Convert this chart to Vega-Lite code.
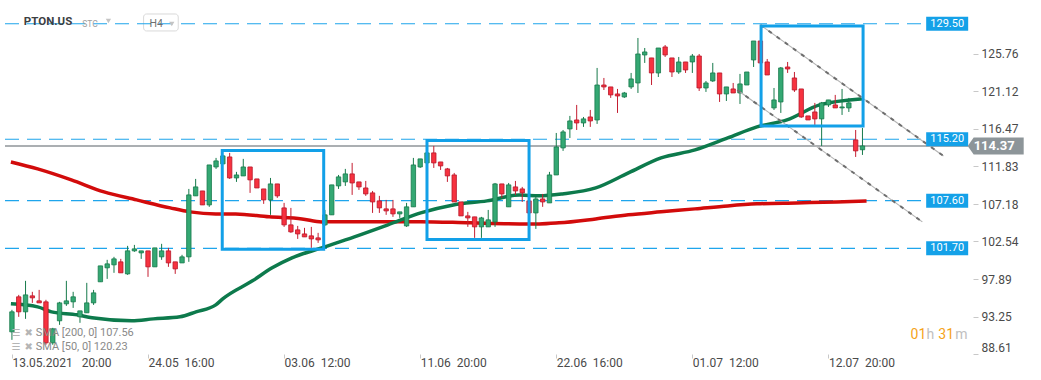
{
"$schema": "https://vega.github.io/schema/vega-lite/v6.json",
"width": 973, "height": 354, "padding": 0, "background": "white",
"config": {"view": {"stroke": null}, "font": "Roboto", "axis": {"grid": false, "domain": false, "title": null}},
"resolve": {"axis": {"x": "independent", "y": "independent"}},
"datasets": {
"candles": [
{"i":0,"o":91.35,"h":94.08,"l":90.36,"c":93.83},{"i":1,"o":95.69,"h":95.93,"l":93.21,"c":93.83},{"i":2,"o":93.83,"h":97.67,"l":92.96,"c":95.93},{"i":3,"o":95.81,"h":96.31,"l":94.94,"c":95.56},{"i":4,"o":95.19,"h":96.55,"l":94.94,"c":94.94},{"i":5,"o":95.07,"h":95.32,"l":89.75,"c":89.99},{"i":6,"o":89.99,"h":91.85,"l":89.75,"c":91.73},{"i":7,"o":92.72,"h":95.07,"l":92.22,"c":94.94},{"i":8,"o":94.82,"h":97.67,"l":94.57,"c":95.19},{"i":9,"o":95.07,"h":96.31,"l":94.32,"c":95.69},
{"i":10,"o":93.21,"h":93.95,"l":92.47,"c":93.95},{"i":11,"o":93.71,"h":97.42,"l":93.71,"c":94.94},{"i":12,"o":94.94,"h":96.55,"l":94.69,"c":96.18},{"i":13,"o":97.55,"h":99.52,"l":97.55,"c":99.52},{"i":14,"o":99.28,"h":100.27,"l":97.91,"c":99.77},{"i":15,"o":99.65,"h":100.64,"l":98.66,"c":100.39},{"i":16,"o":100.02,"h":100.39,"l":98.66,"c":98.66},{"i":17,"o":98.53,"h":102.0,"l":98.41,"c":101.38},{"i":18,"o":101.38,"h":102.12,"l":101.26,"c":101.63},{"i":19,"o":101.13,"h":101.38,"l":100.39,"c":101.38},
{"i":20,"o":101.38,"h":101.38,"l":98.16,"c":99.4},{"i":21,"o":99.4,"h":101.75,"l":99.4,"c":101.75},{"i":22,"o":100.64,"h":102.25,"l":100.27,"c":101.38},{"i":23,"o":101.38,"h":101.75,"l":99.4,"c":99.89},{"i":24,"o":100.02,"h":100.02,"l":98.53,"c":99.15},{"i":25,"o":99.89,"h":100.89,"l":99.89,"c":100.64},{"i":26,"o":100.64,"h":109.05,"l":100.02,"c":108.31},{"i":27,"o":108.19,"h":110.29,"l":108.19,"c":109.3},{"i":28,"o":108.8,"h":108.8,"l":107.07,"c":107.07},{"i":29,"o":107.07,"h":112.02,"l":106.83,"c":112.02},
{"i":30,"o":111.77,"h":112.89,"l":111.53,"c":112.52},{"i":31,"o":112.15,"h":113.26,"l":112.15,"c":113.14},{"i":32,"o":113.01,"h":113.51,"l":110.29,"c":110.41},{"i":33,"o":110.41,"h":111.16,"l":109.92,"c":110.78},{"i":34,"o":110.66,"h":112.77,"l":110.66,"c":111.77},{"i":35,"o":111.77,"h":111.77,"l":108.56,"c":110.17},{"i":36,"o":110.29,"h":110.29,"l":109.17,"c":109.17},{"i":37,"o":109.05,"h":109.05,"l":107.2,"c":107.69},{"i":38,"o":107.69,"h":110.41,"l":105.84,"c":109.67},{"i":39,"o":109.67,"h":109.67,"l":107.94,"c":108.19},
{"i":40,"o":106.7,"h":107.32,"l":104.35,"c":104.6},{"i":41,"o":104.6,"h":106.7,"l":103.61,"c":103.73},{"i":42,"o":103.98,"h":104.47,"l":102.86,"c":103.48},{"i":43,"o":103.48,"h":104.23,"l":103.11,"c":103.11},{"i":44,"o":103.24,"h":104.35,"l":101.75,"c":102.86},{"i":45,"o":102.99,"h":103.61,"l":102.37,"c":102.74},{"i":46,"o":104.6,"h":106.45,"l":104.47,"c":105.84},{"i":47,"o":105.84,"h":109.55,"l":105.84,"c":109.55},{"i":48,"o":109.42,"h":110.78,"l":109.05,"c":110.54},{"i":49,"o":109.92,"h":111.53,"l":109.42,"c":110.91},
{"i":50,"o":110.91,"h":112.27,"l":108.31,"c":109.79},{"i":51,"o":109.92,"h":109.92,"l":108.93,"c":109.3},{"i":52,"o":109.17,"h":110.04,"l":108.19,"c":108.43},{"i":53,"o":108.56,"h":108.8,"l":106.08,"c":107.44},{"i":54,"o":107.57,"h":108.19,"l":106.08,"c":106.7},{"i":55,"o":106.58,"h":107.69,"l":105.84,"c":106.33},{"i":56,"o":106.58,"h":107.69,"l":105.59,"c":105.96},{"i":57,"o":105.96,"h":106.21,"l":105.46,"c":106.21},{"i":58,"o":104.47,"h":107.32,"l":104.35,"c":106.83},{"i":59,"o":106.83,"h":112.89,"l":106.83,"c":112.02},
{"i":60,"o":111.77,"h":112.77,"l":111.65,"c":112.77},{"i":61,"o":112.27,"h":113.63,"l":112.15,"c":113.51},{"i":62,"o":113.51,"h":114.37,"l":111.65,"c":112.27},{"i":63,"o":112.39,"h":112.39,"l":111.4,"c":111.9},{"i":64,"o":111.53,"h":111.65,"l":109.92,"c":110.66},{"i":65,"o":110.78,"h":111.03,"l":107.44,"c":107.44},{"i":66,"o":107.44,"h":107.44,"l":105.71,"c":105.71},{"i":67,"o":105.71,"h":106.21,"l":104.35,"c":105.46},{"i":68,"o":105.59,"h":105.59,"l":102.99,"c":104.35},{"i":69,"o":104.35,"h":105.59,"l":102.99,"c":105.46},
{"i":70,"o":104.35,"h":106.45,"l":104.35,"c":105.22},{"i":71,"o":104.97,"h":109.79,"l":104.35,"c":109.67},{"i":72,"o":109.67,"h":109.67,"l":107.94,"c":108.43},{"i":73,"o":106.83,"h":109.79,"l":106.83,"c":109.55},{"i":74,"o":109.3,"h":110.04,"l":108.31,"c":108.8},{"i":75,"o":109.05,"h":109.3,"l":107.44,"c":108.56},{"i":76,"o":107.57,"h":107.69,"l":105.96,"c":106.08},{"i":77,"o":106.08,"h":108.06,"l":104.1,"c":107.81},{"i":78,"o":107.81,"h":108.43,"l":106.83,"c":107.44},{"i":79,"o":107.32,"h":111.16,"l":107.32,"c":110.78},
{"i":80,"o":110.78,"h":115.98,"l":110.78,"c":114.25},{"i":81,"o":114.13,"h":116.35,"l":113.76,"c":116.11},{"i":82,"o":116.48,"h":118.09,"l":115.36,"c":117.47},{"i":83,"o":117.59,"h":119.45,"l":116.35,"c":117.22},{"i":84,"o":117.22,"h":117.96,"l":116.73,"c":117.72},{"i":85,"o":117.96,"h":118.83,"l":116.73,"c":117.47},{"i":86,"o":117.59,"h":124.03,"l":117.1,"c":121.92},{"i":87,"o":121.92,"h":122.79,"l":121.3,"c":121.68},{"i":88,"o":121.68,"h":121.68,"l":120.32,"c":120.69},{"i":89,"o":120.81,"h":121.43,"l":118.46,"c":120.56},
{"i":90,"o":120.44,"h":121.06,"l":120.32,"c":120.93},{"i":91,"o":121.68,"h":123.41,"l":121.43,"c":122.67},{"i":92,"o":122.17,"h":127.74,"l":120.93,"c":125.76},{"i":93,"o":125.64,"h":126.5,"l":124.65,"c":126.01},{"i":94,"o":125.27,"h":125.27,"l":121.92,"c":123.41},{"i":95,"o":123.41,"h":126.5,"l":122.91,"c":126.5},{"i":96,"o":126.63,"h":126.87,"l":125.39,"c":125.64},{"i":97,"o":125.27,"h":125.27,"l":122.91,"c":123.53},{"i":98,"o":123.53,"h":125.39,"l":123.29,"c":124.77},{"i":99,"o":124.77,"h":124.77,"l":123.41,"c":123.78},
{"i":100,"o":124.77,"h":125.76,"l":123.41,"c":125.51},{"i":101,"o":125.51,"h":125.76,"l":121.18,"c":121.55},{"i":102,"o":121.55,"h":122.42,"l":121.06,"c":122.17},{"i":103,"o":122.42,"h":124.65,"l":122.3,"c":123.41},{"i":104,"o":123.41,"h":123.41,"l":119.82,"c":120.81},{"i":105,"o":120.81,"h":121.68,"l":119.94,"c":121.68},{"i":106,"o":121.43,"h":122.17,"l":120.93,"c":120.93},{"i":107,"o":120.93,"h":123.29,"l":119.57,"c":122.05},{"i":108,"o":121.92,"h":123.53,"l":121.92,"c":123.53},{"i":109,"o":125.02,"h":127.37,"l":124.15,"c":127.37},
{"i":110,"o":127.37,"h":127.49,"l":124.52,"c":124.65},{"i":111,"o":124.77,"h":125.14,"l":123.16,"c":123.16},{"i":112,"o":119.08,"h":121.55,"l":118.83,"c":120.07},{"i":113,"o":119.82,"h":124.15,"l":118.46,"c":124.03},{"i":114,"o":124.15,"h":124.77,"l":123.41,"c":123.9},{"i":115,"o":122.79,"h":123.53,"l":121.06,"c":121.3},{"i":116,"o":121.43,"h":121.43,"l":117.84,"c":117.96},{"i":117,"o":118.09,"h":118.09,"l":117.59,"c":117.59},{"i":118,"o":118.58,"h":119.7,"l":116.97,"c":117.72},{"i":119,"o":117.72,"h":119.82,"l":114.37,"c":119.7},
{"i":120,"o":119.45,"h":120.07,"l":119.2,"c":120.07},{"i":121,"o":119.45,"h":120.69,"l":119.08,"c":119.08},{"i":122,"o":119.08,"h":121.43,"l":118.21,"c":119.2},{"i":123,"o":119.08,"h":120.32,"l":118.58,"c":119.7},{"i":124,"o":115.12,"h":116.35,"l":113.01,"c":113.76},{"i":125,"o":113.9,"h":116.6,"l":113.26,"c":114.37}
],
"sma200": [
{"i":-0.15,"v":112.39},{"i":3.78,"v":111.53},{"i":8.73,"v":110.17},{"i":13.53,"v":108.68},{"i":18.33,"v":107.69},{"i":23.27,"v":106.7},{"i":26.18,"v":106.21},{"i":29.96,"v":105.96},{"i":32.87,"v":105.96},{"i":37.82,"v":105.59},{"i":42.62,"v":105.34},{"i":45.53,"v":104.97},{"i":52.8,"v":105.0},{"i":60.07,"v":105.0},{"i":67.35,"v":104.85},{"i":74.6,"v":104.72},{"i":77.5,"v":104.72},{"i":80.4,"v":104.85},{"i":85.8,"v":105.34},{"i":90.6,"v":105.84},{"i":95.4,"v":106.21},{"i":100.4,"v":106.58},{"i":105.2,"v":106.95},{"i":109.5,"v":107.2},{"i":115.3,"v":107.32},{"i":121.2,"v":107.44},{"i":125.6,"v":107.56}
],
"sma50": [
{"i":-0.15,"v":94.82},{"i":3.78,"v":94.45},{"i":5.82,"v":93.83},{"i":9.6,"v":93.46},{"i":11.78,"v":93.09},{"i":17.6,"v":92.72},{"i":20.8,"v":92.96},{"i":24.7,"v":93.21},{"i":27.05,"v":93.83},{"i":29.96,"v":94.69},{"i":30.98,"v":95.44},{"i":35.35,"v":97.67},{"i":38.25,"v":99.28},{"i":41.16,"v":100.51},{"i":45.53,"v":101.75},{"i":50.33,"v":103.11},{"i":55.27,"v":104.6},{"i":60.07,"v":106.08},{"i":64.87,"v":107.07},{"i":69.82,"v":107.57},{"i":74.6,"v":108.31},{"i":77.5,"v":108.19},{"i":80.9,"v":108.43},{"i":85.8,"v":109.17},{"i":90.6,"v":111.03},{"i":95.4,"v":112.89},{"i":100.4,"v":113.88},{"i":105.2,"v":115.36},{"i":109.5,"v":116.73},{"i":113.9,"v":117.59},{"i":118.7,"v":119.45},{"i":125.1,"v":120.23}
],
"levels": [{"level":129.5},{"level":115.2},{"level":107.6},{"level":101.7}],
"boxes": [
{"x1":30.91,"x2":45.82,"top":113.82,"bottom":101.57},
{"x1":61.0,"x2":76.0,"top":115.05,"bottom":102.8},
{"x1":110.1,"x2":125.09,"top":129.23,"bottom":116.85}
],
"trend": [
{"line":"upper","i":110.0,"p":129.35},{"line":"upper","i":136.9,"p":113.14},
{"line":"lower","i":106.6,"p":121.3},{"line":"lower","i":133.8,"p":104.97}
]
},
"layer": [
{"data":{"values":[{}]},"mark":{"type":"rect","fill":"white","stroke":"#d9d9d9","strokeWidth":1,"cornerRadius":3},
 "encoding":{"x":{"datum":19.35,"type":"quantitative","scale":{"domain":[-1.018,140.51],"nice":false,"zero":false},"axis":null},"x2":{"datum":24.44},
 "y":{"datum":130.71,"type":"quantitative","scale":{"domain":[88.61,132.443],"nice":false,"zero":false},"axis":null},"y2":{"datum":128.61}}},
{"data":{"name":"levels"},"mark":{"type":"rule","color":"#1ea5ec","strokeWidth":1.2,"strokeDash":[14,8]},
 "encoding":{"x":{"datum":-1.018,"type":"quantitative","scale":{"domain":[-1.018,140.51],"nice":false,"zero":false},"axis":null},"x2":{"datum":134.3},
 "y":{"field":"level","type":"quantitative","scale":{"domain":[88.61,132.443],"nice":false,"zero":false},"axis":null}}},
{"data":{"values":[{"price":114.37}]},"mark":{"type":"rule","color":"#8f9498","strokeWidth":1.5},
 "encoding":{"x":{"datum":-1.018,"type":"quantitative","scale":{"domain":[-1.018,140.51],"nice":false,"zero":false},"axis":null},"x2":{"datum":140.51},
 "y":{"field":"price","type":"quantitative","scale":{"domain":[88.61,132.443],"nice":false,"zero":false},"axis":null}}},
{"data":{"name":"sma200"},"mark":{"type":"line","color":"#d20b0b","strokeWidth":3.5,"interpolate":"monotone"},
 "encoding":{"x":{"field":"i","type":"quantitative","scale":{"domain":[-1.018,140.51],"nice":false,"zero":false},"axis":null},
 "y":{"field":"v","type":"quantitative","scale":{"domain":[88.61,132.443],"nice":false,"zero":false},"axis":null}}},
{"data":{"name":"sma50"},"mark":{"type":"line","color":"#0d7a4c","strokeWidth":3.5,"interpolate":"monotone"},
 "encoding":{"x":{"field":"i","type":"quantitative","scale":{"domain":[-1.018,140.51],"nice":false,"zero":false},"axis":null},
 "y":{"field":"v","type":"quantitative","scale":{"domain":[88.61,132.443],"nice":false,"zero":false},"axis":null}}},
{"data":{"name":"candles"},"mark":{"type":"rule","strokeWidth":1},
 "encoding":{"x":{"field":"i","type":"quantitative","scale":{"domain":[-1.018,140.51],"nice":false,"zero":false},
   "axis":{"orient":"bottom","values":[0,20,40,60,80,100,120],"labelAlign":"left","labelFlush":false,"labelFontSize":12,"labelColor":"#4a4a4a","tickColor":"#c8c8c8","tickSize":4,"labelPadding":-1,
   "labelExpr":"datum.value == 0 ? '13.05.2021\u00a0\u00a0\u00a020:00' : datum.value == 20 ? '24.05\u00a0\u00a016:00' : datum.value == 40 ? '03.06\u00a0\u00a012:00' : datum.value == 60 ? '11.06\u00a0\u00a020:00' : datum.value == 80 ? '22.06\u00a0\u00a016:00' : datum.value == 100 ? '01.07\u00a0\u00a012:00' : '12.07\u00a0\u00a020:00'"}},
 "y":{"field":"l","type":"quantitative","scale":{"domain":[88.61,132.443],"nice":false,"zero":false},
   "axis":{"orient":"right","values":[88.61,93.25,97.89,102.54,107.18,111.83,116.47,121.12,125.76],"format":".2f","labelFlush":true,"labelFontSize":12,"labelColor":"#4a4a4a","tickColor":"#c8c8c8","tickSize":5,"labelPadding":3}},
 "y2":{"field":"h"},
 "color":{"condition":{"test":"datum.c >= datum.o","value":"#177a4b"},"value":"#c41e31"}}},
{"data":{"name":"candles"},"mark":{"type":"bar","size":4.4,"strokeWidth":0.8},
 "encoding":{"x":{"field":"i","type":"quantitative","scale":{"domain":[-1.018,140.51],"nice":false,"zero":false},"axis":null},
 "y":{"field":"o","type":"quantitative","scale":{"domain":[88.61,132.443],"nice":false,"zero":false},"axis":null},
 "y2":{"field":"c"},
 "color":{"condition":{"test":"datum.c >= datum.o","value":"#34a873"},"value":"#f7323f"},
 "stroke":{"condition":{"test":"datum.c >= datum.o","value":"#177a4b"},"value":"#b8162a"}}},
{"data":{"name":"trend"},"mark":{"type":"line","color":"#b4b4b4","strokeWidth":1.2},
 "encoding":{"x":{"field":"i","type":"quantitative","scale":{"domain":[-1.018,140.51],"nice":false,"zero":false},"axis":null},
 "y":{"field":"p","type":"quantitative","scale":{"domain":[88.61,132.443],"nice":false,"zero":false},"axis":null},"detail":{"field":"line"}}},
{"data":{"name":"trend"},"mark":{"type":"line","color":"#6e6e6e","strokeWidth":2,"strokeDash":[4,6]},
 "encoding":{"x":{"field":"i","type":"quantitative","scale":{"domain":[-1.018,140.51],"nice":false,"zero":false},"axis":null},
 "y":{"field":"p","type":"quantitative","scale":{"domain":[88.61,132.443],"nice":false,"zero":false},"axis":null},"detail":{"field":"line"}}},
{"data":{"name":"boxes"},"mark":{"type":"rect","fillOpacity":0,"stroke":"#12a0e8","strokeWidth":3},
 "encoding":{"x":{"field":"x1","type":"quantitative","scale":{"domain":[-1.018,140.51],"nice":false,"zero":false},"axis":null},"x2":{"field":"x2"},
 "y":{"field":"top","type":"quantitative","scale":{"domain":[88.61,132.443],"nice":false,"zero":false},"axis":null},"y2":{"field":"bottom"}}},
{"data":{"name":"levels"},"mark":{"type":"tick","orient":"horizontal","size":42,"thickness":14,"color":"#14a1e8","opacity":1},
 "encoding":{"x":{"datum":137.45,"type":"quantitative","scale":{"domain":[-1.018,140.51],"nice":false,"zero":false},"axis":null},
 "y":{"field":"level","type":"quantitative","scale":{"domain":[88.61,132.443],"nice":false,"zero":false},"axis":null}}},
{"data":{"name":"levels"},"mark":{"type":"text","color":"white","fontSize":11,"align":"center","baseline":"middle"},
 "encoding":{"x":{"datum":137.45,"type":"quantitative","scale":{"domain":[-1.018,140.51],"nice":false,"zero":false},"axis":null},
 "y":{"field":"level","type":"quantitative","scale":{"domain":[88.61,132.443],"nice":false,"zero":false},"axis":null},
 "text":{"field":"level","type":"quantitative","format":".2f"}}},
{"data":{"values":[{"price":114.37}]},"mark":{"type":"point","shape":"M -1 0 L -0.786 -0.304 L 1 -0.304 L 1 0.304 L -0.786 0.304 Z","size":3136,"filled":true,"color":"#8d9599","opacity":1},
 "encoding":{"x":{"datum":144.58,"type":"quantitative","scale":{"domain":[-1.018,140.51],"nice":false,"zero":false},"axis":null},
 "y":{"field":"price","type":"quantitative","scale":{"domain":[88.61,132.443],"nice":false,"zero":false},"axis":null}}},
{"data":{"values":[{"price":114.37}]},"mark":{"type":"text","color":"white","fontSize":13,"fontWeight":"bold","align":"center","baseline":"middle"},
 "encoding":{"x":{"datum":144.36,"type":"quantitative","scale":{"domain":[-1.018,140.51],"nice":false,"zero":false},"axis":null},
 "y":{"field":"price","type":"quantitative","scale":{"domain":[88.61,132.443],"nice":false,"zero":false},"axis":null},
 "text":{"field":"price","type":"quantitative","format":".2f"}}},
{"data":{"values":[{"t":"PTON.US"}]},"mark":{"type":"text","color":"#3c4043","fontSize":11.5,"fontWeight":"bold","align":"left","baseline":"middle"},
 "encoding":{"x":{"datum":1.75,"type":"quantitative","scale":{"domain":[-1.018,140.51],"nice":false,"zero":false},"axis":null},
 "y":{"datum":129.66,"type":"quantitative","scale":{"domain":[88.61,132.443],"nice":false,"zero":false},"axis":null},"text":{"field":"t"}}},
{"data":{"values":[{"t":"STC"}]},"mark":{"type":"text","color":"#a0a0a0","fontSize":8.5,"align":"left","baseline":"middle"},
 "encoding":{"x":{"datum":10.33,"type":"quantitative","scale":{"domain":[-1.018,140.51],"nice":false,"zero":false},"axis":null},
 "y":{"datum":129.5,"type":"quantitative","scale":{"domain":[88.61,132.443],"nice":false,"zero":false},"axis":null},"text":{"field":"t"}}},
{"data":{"values":[{"t":"H4"}]},"mark":{"type":"text","color":"#707070","fontSize":10.5,"align":"left","baseline":"middle"},
 "encoding":{"x":{"datum":20.22,"type":"quantitative","scale":{"domain":[-1.018,140.51],"nice":false,"zero":false},"axis":null},
 "y":{"datum":129.5,"type":"quantitative","scale":{"domain":[88.61,132.443],"nice":false,"zero":false},"axis":null},"text":{"field":"t"}}},
{"data":{"values":[{}]},"mark":{"type":"point","shape":"triangle-down","size":28,"filled":true,"color":"#c4c4c4","opacity":1},
 "encoding":{"x":{"datum":14.18,"type":"quantitative","scale":{"domain":[-1.018,140.51],"nice":false,"zero":false},"axis":null},
 "y":{"datum":129.84,"type":"quantitative","scale":{"domain":[88.61,132.443],"nice":false,"zero":false},"axis":null}}},
{"data":{"values":[{}]},"mark":{"type":"point","shape":"triangle-down","size":28,"filled":true,"color":"#c4c4c4","opacity":1},
 "encoding":{"x":{"datum":23.49,"type":"quantitative","scale":{"domain":[-1.018,140.51],"nice":false,"zero":false},"axis":null},
 "y":{"datum":129.47,"type":"quantitative","scale":{"domain":[88.61,132.443],"nice":false,"zero":false},"axis":null}}},
{"data":{"values":[{"t":"SMA  [200,  0]  107.56"}]},"mark":{"type":"text","color":"#8a8a8a","fontSize":11,"align":"left","baseline":"middle"},
 "encoding":{"x":{"datum":3.49,"type":"quantitative","scale":{"domain":[-1.018,140.51],"nice":false,"zero":false},"axis":null},
 "y":{"datum":91.17,"type":"quantitative","scale":{"domain":[88.61,132.443],"nice":false,"zero":false},"axis":null},"text":{"field":"t"}}},
{"data":{"values":[{"t":"SMA  [50,  0]  120.23"}]},"mark":{"type":"text","color":"#8a8a8a","fontSize":11,"align":"left","baseline":"middle"},
 "encoding":{"x":{"datum":3.49,"type":"quantitative","scale":{"domain":[-1.018,140.51],"nice":false,"zero":false},"axis":null},
 "y":{"datum":89.5,"type":"quantitative","scale":{"domain":[88.61,132.443],"nice":false,"zero":false},"axis":null},"text":{"field":"t"}}},
{"data":{"values":[{"t":"☰"}]},"mark":{"type":"text","color":"#b5b5b5","fontSize":10,"font":"DejaVu Sans","align":"center","baseline":"middle"},
 "encoding":{"x":{"datum":0.58,"type":"quantitative","scale":{"domain":[-1.018,140.51],"nice":false,"zero":false},"axis":null},
 "y":{"datum":91.17,"type":"quantitative","scale":{"domain":[88.61,132.443],"nice":false,"zero":false},"axis":null},"text":{"field":"t"}}},
{"data":{"values":[{"t":"☰"}]},"mark":{"type":"text","color":"#b5b5b5","fontSize":10,"font":"DejaVu Sans","align":"center","baseline":"middle"},
 "encoding":{"x":{"datum":0.58,"type":"quantitative","scale":{"domain":[-1.018,140.51],"nice":false,"zero":false},"axis":null},
 "y":{"datum":89.5,"type":"quantitative","scale":{"domain":[88.61,132.443],"nice":false,"zero":false},"axis":null},"text":{"field":"t"}}},
{"data":{"values":[{"t":"✖"}]},"mark":{"type":"text","color":"#b5b5b5","fontSize":10,"font":"DejaVu Sans","align":"center","baseline":"middle"},
 "encoding":{"x":{"datum":2.47,"type":"quantitative","scale":{"domain":[-1.018,140.51],"nice":false,"zero":false},"axis":null},
 "y":{"datum":91.17,"type":"quantitative","scale":{"domain":[88.61,132.443],"nice":false,"zero":false},"axis":null},"text":{"field":"t"}}},
{"data":{"values":[{"t":"✖"}]},"mark":{"type":"text","color":"#b5b5b5","fontSize":10,"font":"DejaVu Sans","align":"center","baseline":"middle"},
 "encoding":{"x":{"datum":2.47,"type":"quantitative","scale":{"domain":[-1.018,140.51],"nice":false,"zero":false},"axis":null},
 "y":{"datum":89.5,"type":"quantitative","scale":{"domain":[88.61,132.443],"nice":false,"zero":false},"axis":null},"text":{"field":"t"}}},
{"data":{"values":[{"t":"01"}]},"mark":{"type":"text","color":"#f5a31a","fontSize":14,"align":"left","baseline":"middle"},
 "encoding":{"x":{"datum":132.07,"type":"quantitative","scale":{"domain":[-1.018,140.51],"nice":false,"zero":false},"axis":null},
 "y":{"datum":90.98,"type":"quantitative","scale":{"domain":[88.61,132.443],"nice":false,"zero":false},"axis":null},"text":{"field":"t"}}},
{"data":{"values":[{"t":"h"}]},"mark":{"type":"text","color":"#c0c0c0","fontSize":14,"align":"left","baseline":"middle"},
 "encoding":{"x":{"datum":134.4,"type":"quantitative","scale":{"domain":[-1.018,140.51],"nice":false,"zero":false},"axis":null},
 "y":{"datum":90.98,"type":"quantitative","scale":{"domain":[88.61,132.443],"nice":false,"zero":false},"axis":null},"text":{"field":"t"}}},
{"data":{"values":[{"t":"31"}]},"mark":{"type":"text","color":"#f5a31a","fontSize":14,"align":"left","baseline":"middle"},
 "encoding":{"x":{"datum":136.15,"type":"quantitative","scale":{"domain":[-1.018,140.51],"nice":false,"zero":false},"axis":null},
 "y":{"datum":90.98,"type":"quantitative","scale":{"domain":[88.61,132.443],"nice":false,"zero":false},"axis":null},"text":{"field":"t"}}},
{"data":{"values":[{"t":"m"}]},"mark":{"type":"text","color":"#c0c0c0","fontSize":14,"align":"left","baseline":"middle"},
 "encoding":{"x":{"datum":138.62,"type":"quantitative","scale":{"domain":[-1.018,140.51],"nice":false,"zero":false},"axis":null},
 "y":{"datum":90.98,"type":"quantitative","scale":{"domain":[88.61,132.443],"nice":false,"zero":false},"axis":null},"text":{"field":"t"}}}
]
}
